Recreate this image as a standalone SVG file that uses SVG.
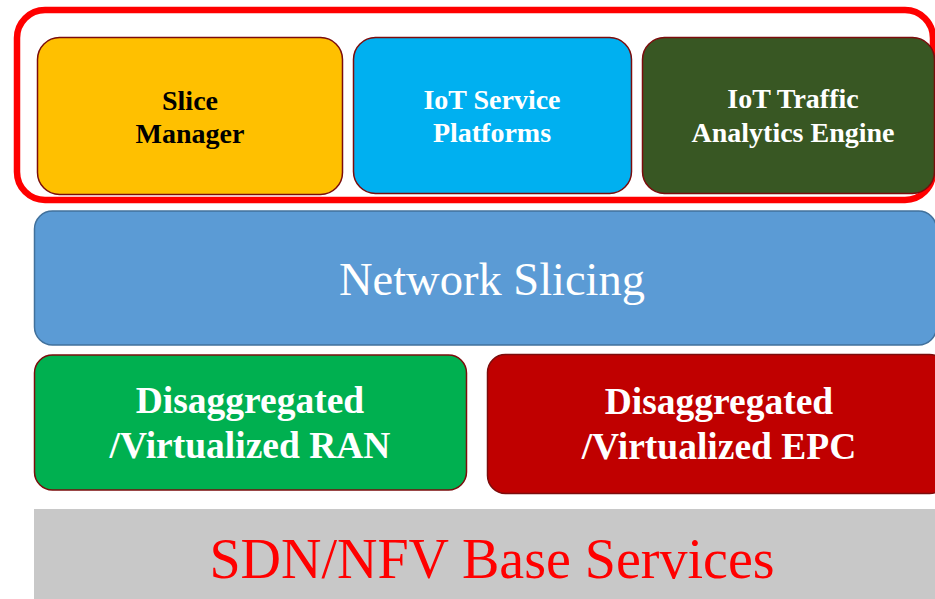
<svg xmlns="http://www.w3.org/2000/svg" width="935" height="599" viewBox="0 0 935 599">
  <style>
    .box { stroke: #7b0c0c; stroke-width: 1.5; }
    .lbl { font-family: "Liberation Serif", "Times New Roman", serif; text-anchor: middle; }
    .b28 { font-size: 28px; font-weight: bold; }
    .b37 { font-size: 37.5px; font-weight: bold; fill: #ffffff; }
  </style>
  <rect width="935" height="599" fill="#ffffff"/>

  <!-- application layer grouping frame -->
  <g id="app-frame">
    <rect x="17" y="10" width="916" height="190" rx="28" fill="none" stroke="#ff0000" stroke-width="6.5"/>
  </g>

  <g id="slice-manager">
    <rect class="box" x="37.5" y="37.5" width="305" height="157" rx="22" fill="#ffc000"/>
    <text class="lbl b28" x="190" y="110" fill="#000000">Slice</text>
    <text class="lbl b28" x="190" y="143" fill="#000000">Manager</text>
  </g>

  <g id="iot-service-platforms">
    <rect class="box" x="353.5" y="37.5" width="278" height="156" rx="22" fill="#00b0f0"/>
    <text class="lbl b28" x="492" y="109" fill="#ffffff">IoT Service</text>
    <text class="lbl b28" x="492" y="142" fill="#ffffff">Platforms</text>
  </g>

  <g id="iot-traffic-analytics">
    <rect class="box" x="642.5" y="37.5" width="292" height="156" rx="22" fill="#385723"/>
    <text class="lbl b28" x="793" y="108" fill="#ffffff">IoT Traffic</text>
    <text class="lbl b28" x="793" y="142" fill="#ffffff">Analytics Engine</text>
  </g>

  <g id="network-slicing">
    <rect x="34.5" y="211" width="902" height="134" rx="18" fill="#5b9bd5" stroke="#41719c" stroke-width="1.5"/>
    <text class="lbl" x="492" y="295" font-size="46.5" fill="#ffffff">Network Slicing</text>
  </g>

  <g id="virtualized-ran">
    <rect class="box" x="34.5" y="355" width="432" height="135" rx="18" fill="#00b050"/>
    <text class="lbl b37" x="250" y="413">Disaggregated</text>
    <text class="lbl b37" x="250" y="458">/Virtualized RAN</text>
  </g>

  <g id="virtualized-epc">
    <rect class="box" x="487.5" y="354.5" width="460" height="139" rx="18" fill="#c00000"/>
    <text class="lbl b37" x="719" y="414">Disaggregated</text>
    <text class="lbl b37" x="719" y="459">/Virtualized EPC</text>
  </g>

  <g id="sdn-nfv-base">
    <rect x="34" y="509" width="901" height="90" fill="#c8c8c8"/>
    <text class="lbl" x="492" y="578" font-size="56" fill="#ff0000">SDN/NFV Base Services</text>
  </g>

  <g id="connectors"></g>
</svg>
